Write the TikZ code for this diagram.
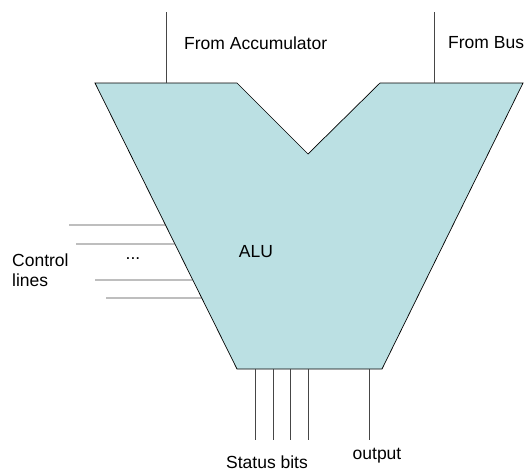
\documentclass[tikz,border=0pt]{standalone}
\usepackage{fontspec}
\setmainfont{Liberation Sans}
\definecolor{alufill}{RGB}{187,224,227}
\definecolor{wire}{RGB}{70,70,70}
\begin{document}
\begin{tikzpicture}[x=1pt,y=-1pt,
  wirestyle/.style={draw=wire,line width=0.9pt},
  lbl/.style={font=\fontsize{17.5}{19.5}\selectfont,inner sep=0pt}]
\useasboundingbox (0,0) rectangle (527,472);
% ALU shape corners
\coordinate (tl) at (95,83);
\coordinate (tli) at (237,83);
\coordinate (v) at (308,154);
\coordinate (tri) at (380,83);
\coordinate (tr) at (523,83);
\coordinate (br) at (382,369);
\coordinate (bl) at (237,369);
\draw[fill=alufill,draw=black,line width=0.7pt] (tl) -- (tli) -- (v) -- (tri) -- (tr) -- (br) -- (bl) -- cycle;
% inputs
\coordinate (acc) at (166,83);
\coordinate (acctop) at (166,12);
\coordinate (bus) at (434,83);
\coordinate (bustop) at (434,12);
\draw[wirestyle] (acctop) -- (acc);
\draw[wirestyle] (bustop) -- (bus);
\node[lbl,anchor=west] (accl) at (184,43) {From Accumulator};
\node[lbl,anchor=west] (busl) at (448,43) {From Bus};
\node[lbl] (alu) at (256,252) {ALU};
% control lines
\foreach \y/\x [count=\i] in {225/69,244/76,280/95,298/106}{
  \coordinate (c\i) at (\x,\y);
  \path (tl) -- (bl) coordinate[pos={(\y-83)/286}] (e\i);
  \draw[wirestyle] (c\i) -- (e\i);
}
\node[lbl] (dots) at (133,259) {...};
\node[lbl,anchor=west,align=left] (ctl) at (12,270) {Control\\lines};
% status bits
\foreach \x [count=\i] in {255,273,290,308}{
  \coordinate (s\i) at (\x,369);
  \coordinate (se\i) at (\x,440);
  \draw[wirestyle] (s\i) -- (se\i);
}
\coordinate (o) at (369,369);
\coordinate (oe) at (369,440);
\draw[wirestyle] (o) -- (oe);
\node[lbl] (stat) at (267,462) {Status bits};
\node[lbl] (outl) at (377,456) {output};
\end{tikzpicture}
\end{document}
